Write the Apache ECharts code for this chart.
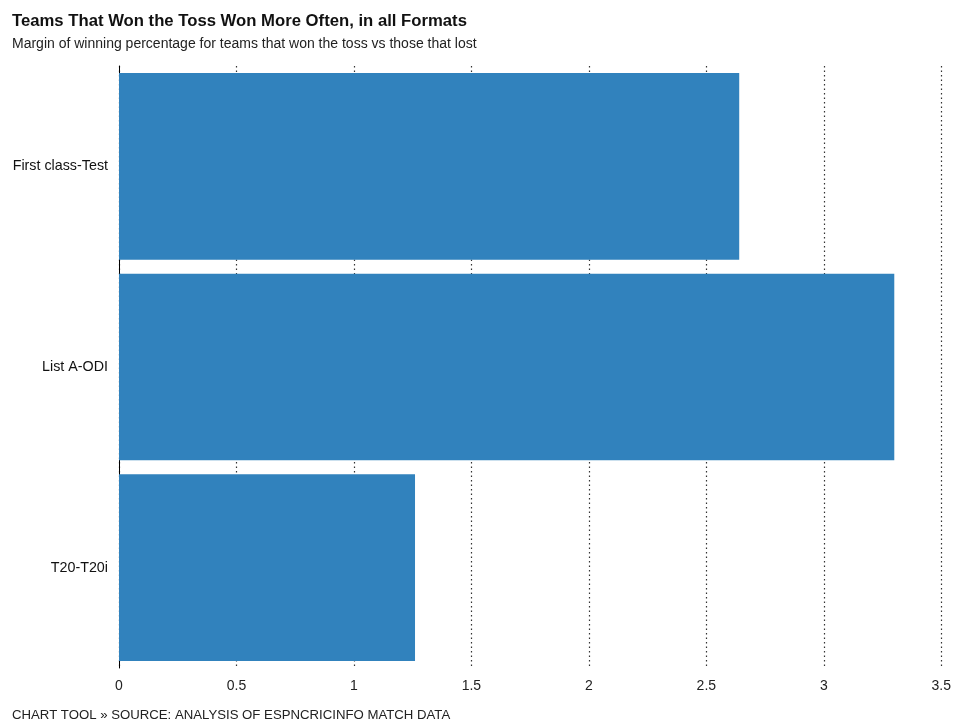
<!DOCTYPE html>
<html>
<head>
<meta charset="utf-8">
<script src="https://cdn.jsdelivr.net/npm/echarts@6/dist/echarts.min.js"></script>
<style>
html,body{margin:0;padding:0;background:#fff;}
#chart{width:954px;height:720px;}
</style>
</head>
<body>
<div id="chart"></div>
<script>
const categories = ['First class-Test', 'List A-ODI', 'T20-T20i'];
const margins = [2.64, 3.30, 1.26];
const xTicks = [0, 0.5, 1, 1.5, 2, 2.5, 3, 3.5];

const chart = echarts.init(document.getElementById('chart'));
const font = '"Liberation Sans", Arial, Helvetica, sans-serif';
chart.setOption({
  animation: false,
  textStyle: { fontFamily: font },
  title: [
    {
      text: 'Teams That Won the Toss Won More Often, in all Formats',
      left: 7, top: 8,
      textStyle: { fontFamily: font, fontSize: 16.7, fontWeight: 'bold', color: '#111' }
    },
    {
      text: 'Margin of winning percentage for teams that won the toss vs those that lost',
      left: 7, top: 32,
      textStyle: { fontFamily: font, fontSize: 14, fontWeight: 'normal', color: '#222' }
    },
    {
      text: 'CHART TOOL \u00BB SOURCE: ANALYSIS OF ESPNCRICINFO MATCH DATA',
      left: 7, top: 704,
      textStyle: { fontFamily: font, fontSize: 13.2, fontWeight: 'normal', color: '#222' }
    }
  ],
  grid: { left: 119, right: 10, top: 66, bottom: 52, containLabel: false },
  xAxis: {
    type: 'value',
    min: xTicks[0],
    max: xTicks[xTicks.length - 1],
    interval: 0.5,
    axisLine: { show: false },
    axisTick: { show: false },
    axisLabel: { fontFamily: font, fontSize: 14, color: '#222', margin: 11 },
    splitLine: { show: true, lineStyle: { color: '#333', type: [1.5, 3], width: 1.2 } }
  },
  yAxis: {
    type: 'category',
    data: categories,
    inverse: true,
    axisLine: { show: true, lineStyle: { color: '#000', width: 1 } },
    axisTick: { show: false },
    axisLabel: { fontFamily: font, fontSize: 14.3, color: '#111', margin: 11 }
  },
  series: [{
    type: 'bar',
    data: margins,
    barCategoryGap: '7%',
    itemStyle: { color: '#3182bd' },
    z: 1
  }]
});
</script>
</body>
</html>
